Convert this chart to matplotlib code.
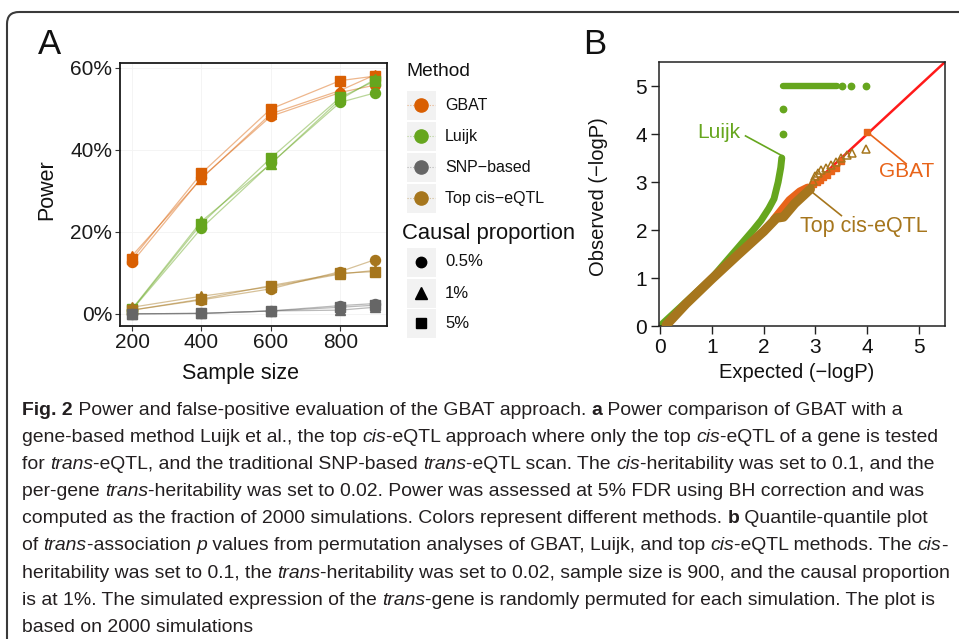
import matplotlib
matplotlib.use('Agg')
import matplotlib.pyplot as plt
from matplotlib.patches import FancyBboxPatch, Rectangle
from matplotlib.ticker import FuncFormatter

# ---------------- data ----------------
sample_sizes = [200, 400, 600, 800, 900]
methods = ['GBAT', 'Luijk', 'SNP\u2212based', 'Top cis\u2212eQTL']
method_colors = ['#D95F02', '#66A61E', '#666666', '#A6761D']
proportions = ['0.5%', '1%', '5%']
prop_markers = ['o', '^', 's']

gbat_05 = [12.6, 33.2, 48.2, 54.0, 55.8]
gbat_1 = [14.2, 33.0, 48.8, 54.5, 58.3]
gbat_5 = [13.4, 34.3, 50.0, 56.9, 58.0]
luijk_05 = [1.0, 20.9, 36.7, 51.6, 53.9]
luijk_1 = [1.2, 22.6, 36.6, 52.3, 57.2]
luijk_5 = [1.1, 22.0, 38.0, 52.8, 56.8]
snp_05 = [0.0, 0.1, 0.7, 2.0, 2.5]
snp_1 = [0.0, 0.1, 0.7, 0.9, 1.6]
snp_5 = [0.0, 0.1, 0.7, 1.6, 2.1]
top_05 = [0.9, 3.4, 6.1, 10.3, 13.2]
top_1 = [1.6, 4.3, 6.6, 9.7, 10.6]
top_5 = [0.9, 3.6, 6.9, 9.9, 10.3]

power = {
    'GBAT': [gbat_05, gbat_1, gbat_5],
    'Luijk': [luijk_05, luijk_1, luijk_5],
    'SNP\u2212based': [snp_05, snp_1, snp_5],
    'Top cis\u2212eQTL': [top_05, top_1, top_5],
}
draw_order = ['GBAT', 'Luijk', 'Top cis\u2212eQTL', 'SNP\u2212based']
y_ticks_a = [0, 20, 40, 60]
x_ticks_a = [200, 400, 600, 800]

# QQ panel
luijk_dense_exp = [0.05, 0.5, 1.0, 1.4, 1.6, 1.8, 1.95, 2.1, 2.2, 2.28, 2.33, 2.35]
luijk_dense_obs = [0.05, 0.5, 1.0, 1.5, 1.75, 2.0, 2.2, 2.45, 2.65, 3.0, 3.3, 3.5]
luijk_tail_exp = [2.37, 2.37]
luijk_tail_obs = [4.0, 4.52]
luijk_cap_exp = [2.37, 3.41]          # dense run of capped values at 5
luijk_cap_obs = [5.0, 5.0]
luijk_cap_pts_exp = [3.51, 3.69, 3.98]
luijk_cap_pts_obs = [5.0, 5.0, 5.0]

gbat_dense_exp = [2.2, 2.5, 2.7, 2.85]
gbat_dense_obs = [2.22, 2.62, 2.8, 2.88]
gbat_tail_exp = [2.95, 3.02, 3.08, 3.15, 3.22, 3.3, 3.4, 3.5, 3.99]
gbat_tail_obs = [2.95, 3.0, 3.05, 3.1, 3.15, 3.22, 3.3, 3.44, 4.05]

top_dense_exp = [0.12, 0.5, 1.0, 1.5, 2.0, 2.25, 2.38, 2.6, 2.9]
top_dense_obs = [0.02, 0.46, 0.98, 1.48, 1.97, 2.25, 2.27, 2.55, 2.85]
top_tail_exp = [2.95, 3.0, 3.05, 3.1, 3.2, 3.3, 3.4, 3.5, 3.6, 3.7, 3.98]
top_tail_obs = [3.02, 3.12, 3.18, 3.24, 3.3, 3.35, 3.42, 3.5, 3.57, 3.6, 3.68]
qq_ticks = [0, 1, 2, 3, 4, 5]

# ---------------- figure ----------------
W, H = 959, 639
fig = plt.figure(figsize=(W / 100, H / 100), dpi=100)
FONT = ['Liberation Sans', 'DejaVu Sans']
CAP_FONT = ['Liberation Sans Narrow', 'Liberation Sans', 'DejaVu Sans']
plt.rcParams['font.family'] = FONT


def ax_rect(left, top, right, bottom):
    return [left / W, 1 - bottom / H, (right - left) / W, (bottom - top) / H]


# ---------- Panel A ----------
axA = fig.add_axes(ax_rect(120, 63, 387, 325.7))
for m in draw_order:
    col = method_colors[methods.index(m)]
    for series in power[m]:
        axA.plot(sample_sizes, series, color=col, lw=0.9, alpha=0.45, zorder=2)
for m in draw_order:
    col = method_colors[methods.index(m)]
    for series, mk in zip(power[m], prop_markers):
        ms = {'o': 7.2, '^': 7.6, 's': 6.6}[mk]
        axA.plot(sample_sizes, series, linestyle='none', marker=mk, ms=ms,
                 color=col, mec=col, zorder=3)
axA.set_xlim(165, 935)
axA.set_ylim(-2.9, 61.2)
axA.set_xticks(x_ticks_a)
axA.set_yticks(y_ticks_a)
axA.yaxis.set_major_formatter(FuncFormatter(lambda v, p: f'{int(v)}%'))
axA.tick_params(direction='out', length=3.5, width=0.8, color='#333333',
                labelsize=15, labelcolor='#1a1a1a', pad=2)
for s in axA.spines.values():
    s.set_linewidth(1.3)
    s.set_color('#1a1a1a')
axA.grid(True, color='#f3f3f3', lw=0.6, zorder=0)
axA.set_axisbelow(True)

# ---------- Panel B ----------
axB = fig.add_axes(ax_rect(659, 62, 945, 326))
axB.plot([0, 5.5], [0, 5.5], color='#ff1a1a', lw=1.8, zorder=1)
axB.plot(luijk_dense_exp, luijk_dense_obs, color='#66A61E', lw=5.0,
         solid_capstyle='round', solid_joinstyle='round', zorder=2)
axB.plot(luijk_tail_exp, luijk_tail_obs, 'o', color='#66A61E', ms=4.6, zorder=2)
axB.plot(luijk_cap_exp, luijk_cap_obs, color='#66A61E', lw=4.6,
         solid_capstyle='round', zorder=2)
axB.plot(luijk_cap_pts_exp, luijk_cap_pts_obs, 'o', color='#66A61E', ms=4.6, zorder=2)
axB.plot(gbat_dense_exp, gbat_dense_obs, color='#E8641A', lw=6.0,
         solid_capstyle='round', solid_joinstyle='round', zorder=3)
axB.plot(gbat_tail_exp, gbat_tail_obs, 's', color='#E8641A', ms=5, zorder=3)
axB.plot(top_dense_exp, top_dense_obs, color='#A6761D', lw=6.8,
         solid_capstyle='round', solid_joinstyle='round', zorder=4)
axB.plot(top_tail_exp, top_tail_obs, '^', mfc='none', mec='#A6761D', mew=1.1,
         ms=5.5, zorder=4)
# annotations
axB.plot([1.65, 2.35], [3.96, 3.55], color='#66A61E', lw=1.2, zorder=5)
axB.text(1.13, 4.03, 'Luijk', color='#66A61E', fontsize=15, ha='center', va='center')
axB.plot([4.0, 4.75], [4.04, 3.38], color='#E8641A', lw=1.2, zorder=5)
axB.text(4.76, 3.22, 'GBAT', color='#E8641A', fontsize=15, ha='center', va='center')
axB.plot([2.9, 3.5], [2.82, 2.3], color='#A6761D', lw=1.2, zorder=5)
axB.text(3.93, 2.07, 'Top cis-eQTL', color='#A6761D', fontsize=15.5,
         ha='center', va='center')
axB.set_xlim(-0.02, 5.5)
axB.set_ylim(0, 5.5)
axB.set_xticks(qq_ticks)
axB.set_yticks(qq_ticks)
axB.tick_params(direction='out', length=5.5, width=1.0, color='#222222',
                labelsize=15, labelcolor='#111111', pad=3)
for s in axB.spines.values():
    s.set_linewidth(1.1)
    s.set_color('#222222')

# ---------- overlay (pixel coordinates) ----------
ov = fig.add_axes([0, 0, 1, 1])
ov.set_xlim(0, W)
ov.set_ylim(H, 0)
ov.axis('off')
ov.patch.set_alpha(0)

# outer rounded frame
ov.add_patch(FancyBboxPatch((7, 12), 1100, 800,
                            boxstyle='round,pad=0,rounding_size=12',
                            fc='none', ec='#3a3a3a', lw=1.5))

# panel letters and axis titles
ov.text(49, 45, 'A', fontsize=25, ha='center', va='center', color='#111111')
ov.text(595, 45, 'B', fontsize=25, ha='center', va='center', color='#111111')
ov.text(47, 190, 'Power', fontsize=15.5, rotation=90, ha='center', va='center',
        color='#111111')
ov.text(240, 373, 'Sample size', fontsize=15.5, ha='center', va='center',
        color='#111111')
ov.text(599, 197, 'Observed (\u2212logP)', fontsize=14.5, rotation=90, ha='center',
        va='center', color='#111111')
ov.text(797, 373, 'Expected (\u2212logP)', fontsize=14.5, ha='center', va='center',
        color='#111111')

# legend: method
ov.text(406, 71, 'Method', fontsize=13.8, ha='left', va='center', color='#111111')
method_centers = [105, 136, 167, 198]
for m, col, cy in zip(methods, method_colors, method_centers):
    ov.add_patch(Rectangle((406.5, cy - 14.5), 29, 29, fc='#F2F2F2', ec='none'))
    ov.plot([407, 435], [cy, cy], color=col, lw=0.8, alpha=0.45, ls=(0, (1, 1.5)))
    ov.plot([421], [cy], 'o', ms=9.5, color=col)
    ov.text(445, cy, m, fontsize=11.5, ha='left', va='center', color='#111111')

# legend: causal proportion
ov.text(402, 233, 'Causal proportion', fontsize=15.8, ha='left', va='center',
        color='#111111')
prop_centers = [262, 293, 323]
for lab, mk, cy in zip(proportions, prop_markers, prop_centers):
    ov.add_patch(Rectangle((406.5, cy - 14.5), 29, 29, fc='#F2F2F2', ec='none'))
    ms = {'o': 7.5, '^': 8.5, 's': 6.8}[mk]
    ov.plot([421], [cy], mk, ms=ms, color='black')
    ov.text(445, cy, lab, fontsize=12, ha='left', va='center', color='#111111')

# ---------- caption ----------
N, I, B = 'normal', 'italic', 'bold'
caption_lines = [
    [('Fig. 2', B), (' Power and false-positive evaluation of the GBAT approach. ', N),
     ('a', B), (' Power comparison of GBAT with a', N)],
    [('gene-based method Luijk et al., the top ', N), ('cis', I),
     ('-eQTL approach where only the top ', N), ('cis', I),
     ('-eQTL of a gene is tested', N)],
    [('for ', N), ('trans', I), ('-eQTL, and the traditional SNP-based ', N),
     ('trans', I), ('-eQTL scan. The ', N), ('cis', I),
     ('-heritability was set to 0.1, and the', N)],
    [('per-gene ', N), ('trans', I),
     ('-heritability was set to 0.02. Power was assessed at 5% FDR using BH correction and was', N)],
    [('computed as the fraction of 2000 simulations. Colors represent different methods. ', N),
     ('b', B), (' Quantile-quantile plot', N)],
    [('of ', N), ('trans', I), ('-association ', N), ('p', I),
     (' values from permutation analyses of GBAT, Luijk, and top ', N), ('cis', I),
     ('-eQTL methods. The ', N), ('cis', I), ('-', N)],
    [('heritability was set to 0.1, the ', N), ('trans', I),
     ('-heritability was set to 0.02, sample size is 900, and the causal proportion', N)],
    [('is at 1%. The simulated expression of the ', N), ('trans', I),
     ('-gene is randomly permuted for each simulation. The plot is', N)],
    [('based on 2000 simulations', N)],
]

renderer = fig.canvas.get_renderer()


def seg_kwargs(style, size):
    kw = dict(fontsize=size, family=CAP_FONT, color='#231f20')
    if style == B:
        kw['fontweight'] = 'bold'
    if style == I:
        kw['fontstyle'] = 'italic'
    return kw


def seg_width(txt, style, size):
    t1 = ov.text(0, 0, '|' + txt + '|', **seg_kwargs(style, size))
    t2 = ov.text(0, 0, '||', **seg_kwargs(style, size))
    w = t1.get_window_extent(renderer).width - t2.get_window_extent(renderer).width
    t1.remove()
    t2.remove()
    return w


def line_width(segs, size):
    return sum(seg_width(t, s, size) for t, s in segs)


base = 15.0
widest = max(line_width(segs, base) for segs in caption_lines)
cap_size = base * 928.0 / widest

baselines = [415 + 27.1 * i for i in range(len(caption_lines))]
for segs, yb in zip(caption_lines, baselines):
    x = 22
    for txt, style in segs:
        ov.text(x, yb, txt, ha='left', va='baseline', **seg_kwargs(style, cap_size))
        x += seg_width(txt, style, cap_size)

fig.savefig('out.png', dpi=100)
